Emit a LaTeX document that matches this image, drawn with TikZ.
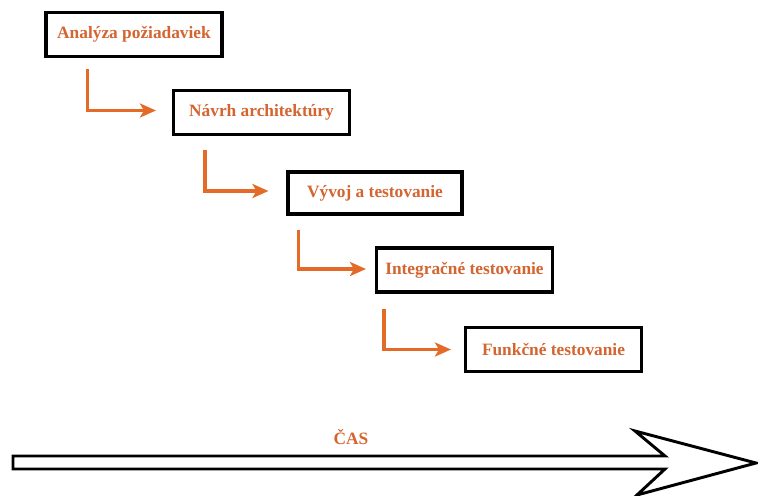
\documentclass[tikz,border=0pt]{standalone}
\usepackage{fontspec}
\setmainfont{Liberation Serif}
\usetikzlibrary{calc,arrows.meta}
\definecolor{flowc}{RGB}{228,106,40}
\definecolor{labelc}{RGB}{212,100,48}
\begin{document}
\begin{tikzpicture}[x=0.75pt,y=-0.75pt,
  stage/.style={draw=black,line width=2.3pt,fill=white,minimum width=176*0.75pt,
    minimum height=44*0.75pt,inner sep=0pt,text=labelc,
    font=\fontsize{13}{15}\selectfont\bfseries},
  flow/.style={draw=flowc,line width=2.3pt,
    -{Stealth[length=16*0.75pt,width=14*0.75pt,inset=4*0.75pt]}}]
\useasboundingbox (0,0) rectangle (758,496);

% process stages
\node[stage] (b1) at (134,34.5) {Analýza požiadaviek};
\node[stage] (b2) at (261.5,112.5) {Návrh architektúry};
\node[stage,minimum width=174*0.75pt,minimum height=42*0.75pt] (b3) at (375,193) {Vývoj a testovanie};
\node[stage] (b4) at (464.5,270) {Integračné testovanie};
\node[stage] (b5) at (553.5,349.5) {Funkčné testovanie};

% hand-over between stages
\draw[flow] ($(b1.south west)+(43,11)$) |- ($(b2.west)+(-16,-2)$);
\draw[flow] ($(b2.south west)+(33,14)$) |- ($(b3.west)+(-18,-2)$);
\draw[flow] ($(b3.south west)+(12,14)$) |- ($(b4.west)+(-9,-1)$);
\draw[flow] ($(b4.south west)+(9,15)$) |- ($(b5.west)+(-13,0)$);

% time axis
\draw[line width=2.2pt,line join=miter,fill=white]
  (13,456) -- (665,456) -- (635,431) -- (756,463) -- (637,495)
  -- (665,469) -- (13,469) -- cycle;
\node[text=labelc,font=\fontsize{13}{15}\selectfont\bfseries] (cas) at (351,437) {ČAS};
\end{tikzpicture}
\end{document}
